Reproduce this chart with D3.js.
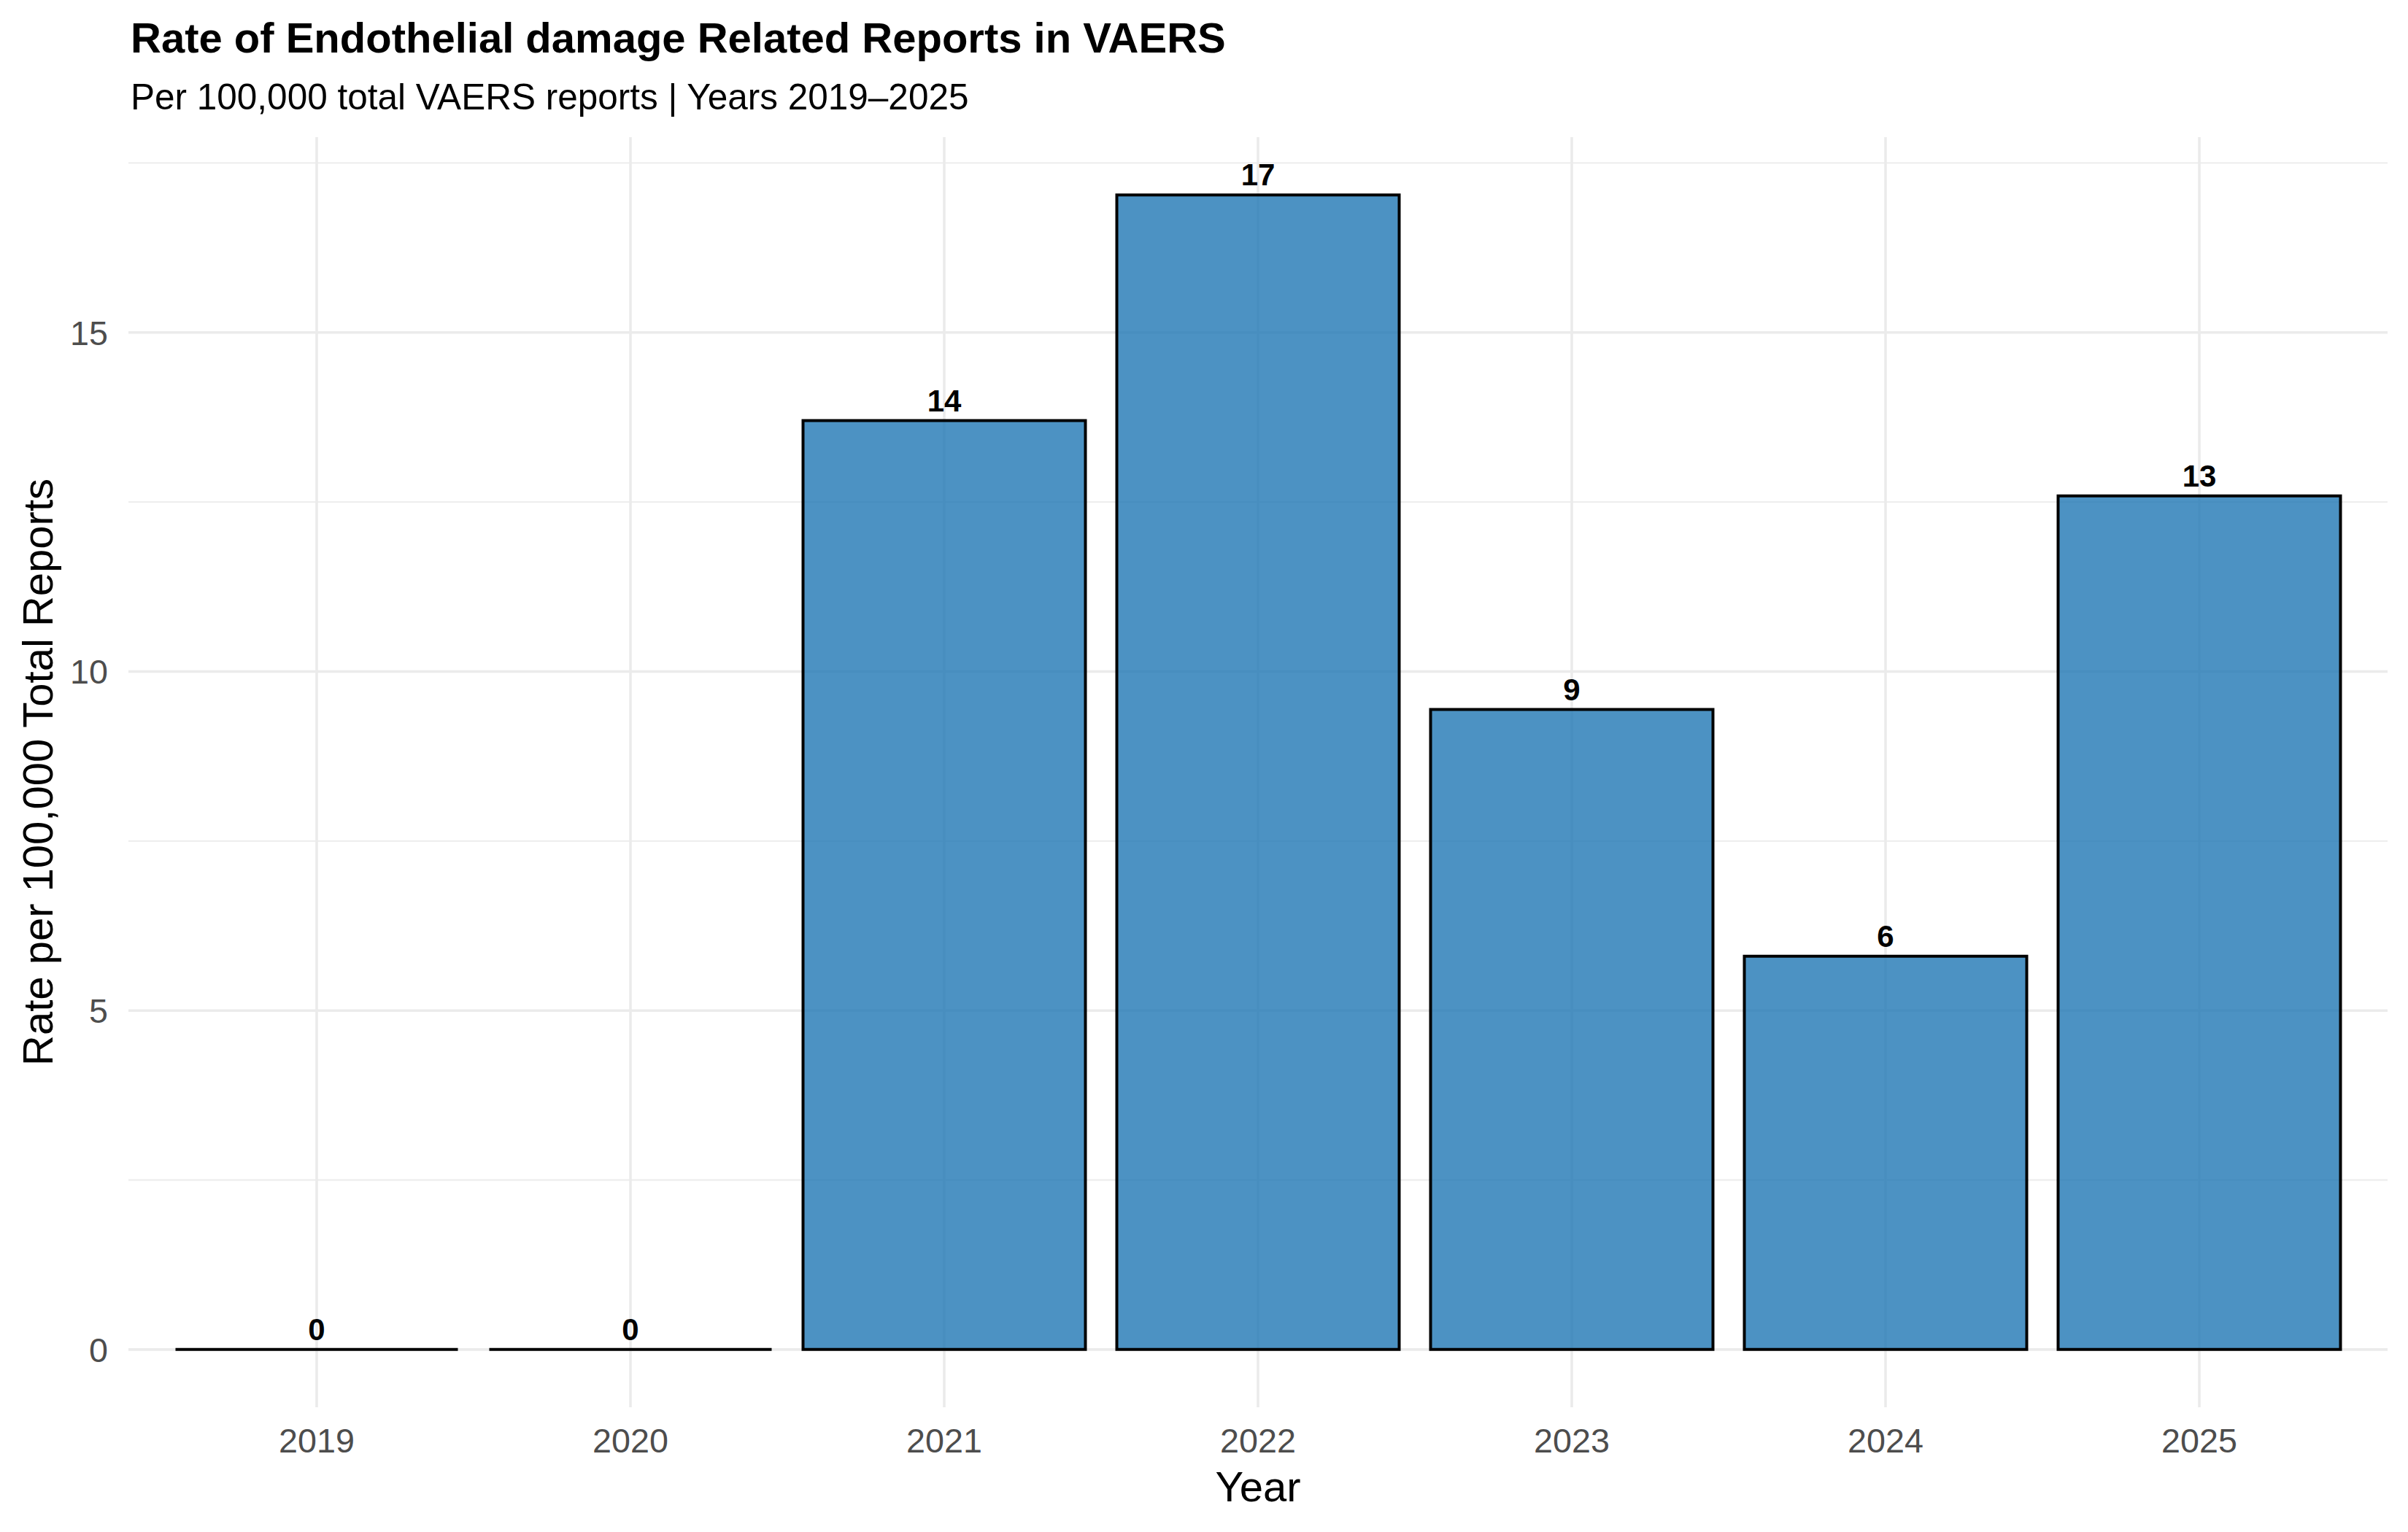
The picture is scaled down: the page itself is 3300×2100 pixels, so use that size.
<!DOCTYPE html>
<meta charset="utf-8">
<style>
  body { margin: 0; background: #fff; }
  text { font-family: "Liberation Sans", Arial, sans-serif; }
  .grid line { stroke: #ebebeb; }
</style>
<svg width="3300" height="2100"></svg>
<script src="https://d3js.org/d3.v7.min.js"></script>
<script>
  var years = ["2019", "2020", "2021", "2022", "2023", "2024", "2025"];
  var rates = [0, 0, 13.70, 17.03, 9.44, 5.80, 12.59];
  var yTicks = [0, 5, 10, 15];
  var yMinor = [2.5, 7.5, 12.5, 17.5];

  var svg = d3.select("svg"),
    width = +svg.attr("width"),
    height = +svg.attr("height");

  svg.append("rect").attr("width", width).attr("height", height).attr("fill", "#fff");

  var panel = { left: 176, right: 3272, top: 188, bottom: 1929 };

  var data = years.map(function(y, i) {
    return { year: y, rate: rates[i] };
  });

  // ggplot style: 5% expansion on continuous, 0.6 units on discrete
  var maxRate = d3.max(rates);
  var pad = maxRate * 0.05;
  var y = d3.scaleLinear()
    .domain([-pad, maxRate + pad])
    .range([panel.bottom, panel.top]);

  var x = d3.scaleBand()
    .domain(years)
    .range([panel.left, panel.right])
    .paddingInner(0.1)
    .paddingOuter(0.15);

  var grid = svg.append("g").attr("class", "grid");

  grid.selectAll(".minor")
    .data(yMinor)
    .enter().append("line")
    .attr("x1", panel.left).attr("x2", panel.right)
    .attr("y1", function(d) { return y(d); })
    .attr("y2", function(d) { return y(d); })
    .attr("stroke-width", 1.8);

  grid.selectAll(".major")
    .data(yTicks)
    .enter().append("line")
    .attr("x1", panel.left).attr("x2", panel.right)
    .attr("y1", function(d) { return y(d); })
    .attr("y2", function(d) { return y(d); })
    .attr("stroke-width", 3.6);

  grid.selectAll(".vmajor")
    .data(years)
    .enter().append("line")
    .attr("x1", function(d) { return x(d) + x.bandwidth() / 2; })
    .attr("x2", function(d) { return x(d) + x.bandwidth() / 2; })
    .attr("y1", panel.top).attr("y2", panel.bottom)
    .attr("stroke-width", 3.6);

  // bars as paths so zero-height bars still show their outline
  svg.append("g")
    .selectAll("path")
    .data(data)
    .enter().append("path")
    .attr("d", function(d) {
      var x0 = x(d.year), w = x.bandwidth(), y0 = y(0), y1 = y(d.rate);
      return "M" + x0 + "," + y0 + "H" + (x0 + w) + "V" + y1 + "H" + x0 + "Z";
    })
    .attr("fill", "#1f77b4")
    .attr("fill-opacity", 0.8)
    .attr("stroke", "#000")
    .attr("stroke-width", 4);

  svg.append("g")
    .selectAll("text")
    .data(data)
    .enter().append("text")
    .attr("x", function(d) { return x(d.year) + x.bandwidth() / 2; })
    .attr("y", function(d) { return y(d.rate) - 13; })
    .attr("text-anchor", "middle")
    .attr("font-size", 42)
    .attr("font-weight", "bold")
    .attr("fill", "#000")
    .text(function(d) { return d3.format(".0f")(d.rate); });

  // axes (no lines, only labels)
  var xAxis = svg.append("g")
    .attr("transform", "translate(0," + panel.bottom + ")")
    .call(d3.axisBottom(x).tickSize(0).tickPadding(0));
  xAxis.select(".domain").remove();
  xAxis.selectAll("text")
    .attr("y", 62).attr("dy", 0)
    .attr("font-size", 46.7)
    .attr("font-family", "Liberation Sans, Arial, sans-serif")
    .attr("fill", "#4d4d4d");

  var yAxis = svg.append("g")
    .attr("transform", "translate(" + panel.left + ",0)")
    .call(d3.axisLeft(y).tickValues(yTicks).tickSize(0).tickPadding(28));
  yAxis.select(".domain").remove();
  yAxis.selectAll("text")
    .attr("dy", "0.35em")
    .attr("font-size", 46.7)
    .attr("font-family", "Liberation Sans, Arial, sans-serif")
    .attr("fill", "#4d4d4d");

  svg.append("text")
    .attr("x", (panel.left + panel.right) / 2)
    .attr("y", 2058)
    .attr("text-anchor", "middle")
    .attr("font-size", 58)
    .attr("fill", "#000")
    .text("Year");

  svg.append("text")
    .attr("transform", "translate(72," + ((panel.top + panel.bottom) / 2) + ") rotate(-90)")
    .attr("text-anchor", "middle")
    .attr("font-size", 58)
    .attr("fill", "#000")
    .text("Rate per 100,000 Total Reports");

  svg.append("text")
    .attr("x", panel.left + 3)
    .attr("y", 72)
    .attr("font-size", 58)
    .attr("font-weight", "bold")
    .attr("fill", "#000")
    .text("Rate of Endothelial damage Related Reports in VAERS");

  svg.append("text")
    .attr("x", panel.left + 3)
    .attr("y", 150)
    .attr("font-size", 49.5)
    .attr("fill", "#000")
    .text("Per 100,000 total VAERS reports | Years 2019\u20132025");
</script>
